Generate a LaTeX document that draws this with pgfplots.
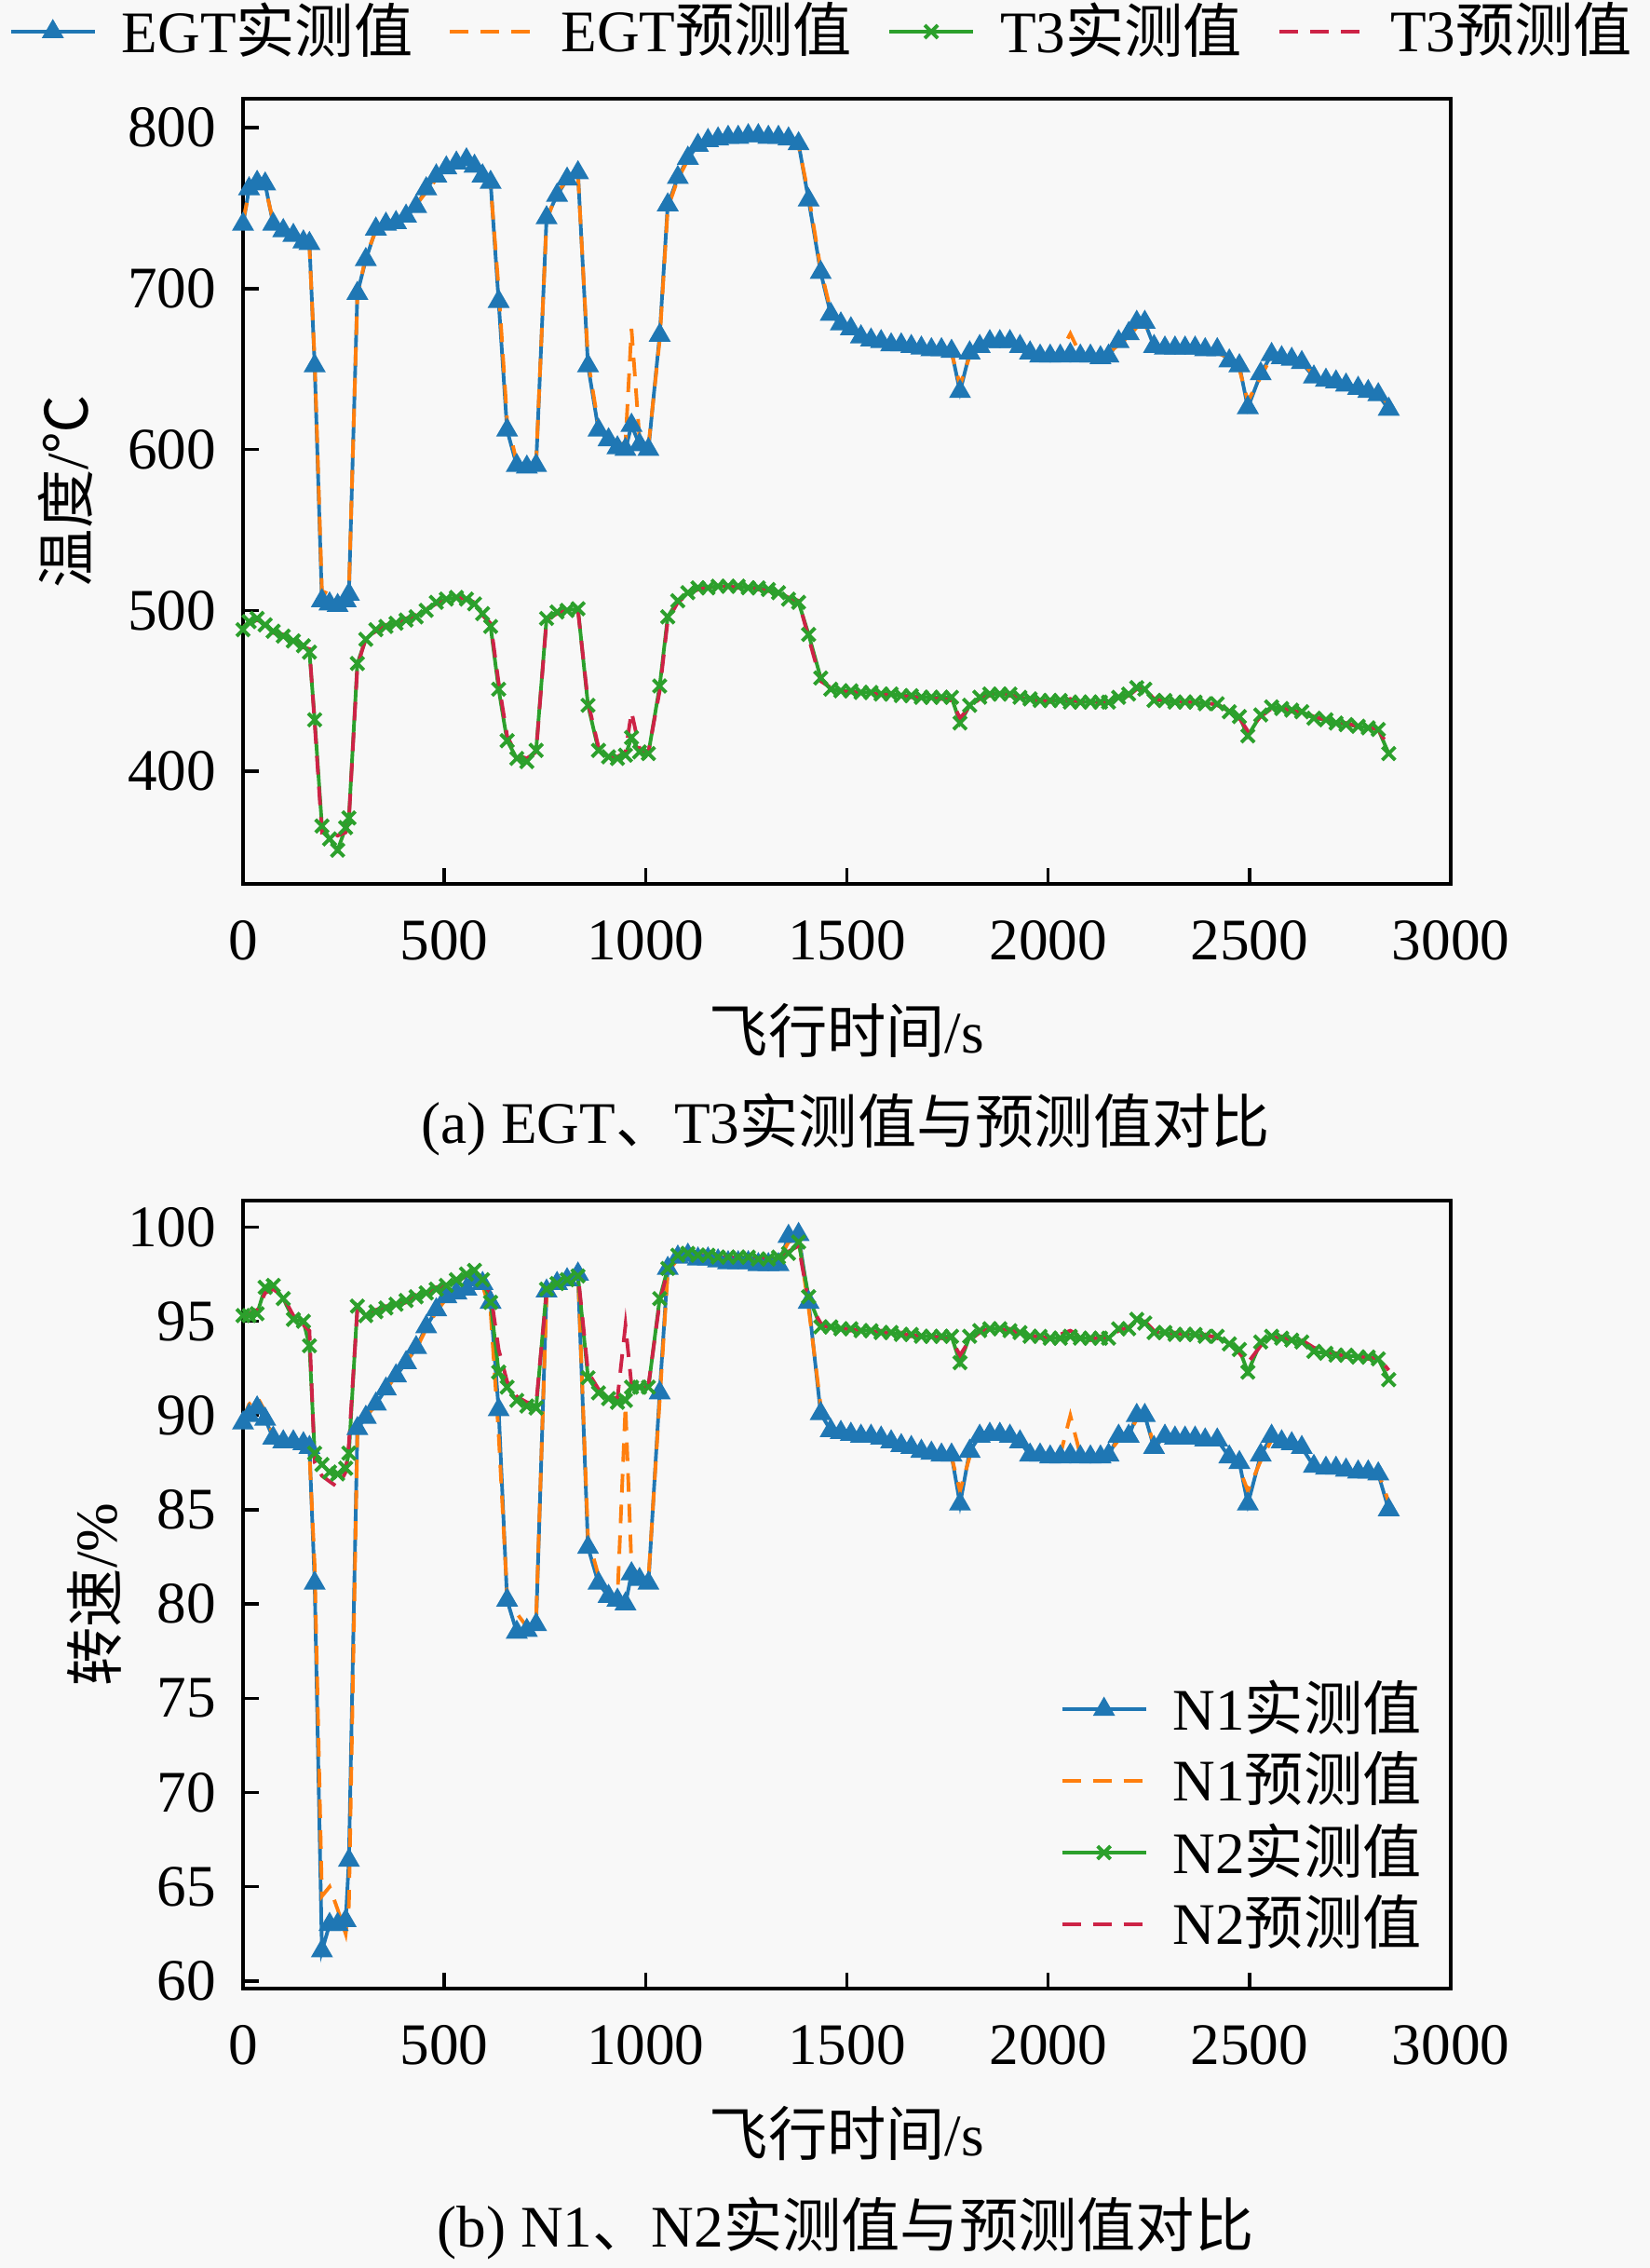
\documentclass[border=0pt]{standalone}
\usepackage{fontspec}
\setmainfont{Liberation Serif}
\newfontfamily\cjk{Noto Sans CJK SC}
\usepackage{pgfplots}
\pgfplotsset{compat=1.18}
\usepackage{pgfplotstable}
\definecolor{cblue}{RGB}{31,119,180}
\definecolor{corange}{RGB}{255,127,14}
\definecolor{cgreen}{RGB}{44,160,44}
\definecolor{cred}{RGB}{205,35,70}
\definecolor{bgcol}{RGB}{248,248,248}

\pgfplotstableread{
t egt egtp t3 t3p
0 740 742 488 490
15 762 760 493 492
35 766 765 495 494
55 765 763 491 492
75 740 742 487 486
100 736 737 484 485
125 733 732 481 482
150 729 730 478 477
165 728 726 474 476
178 652 655 432 430
196 506 512 366 362
215 504 510 358 363
235 503 508 351 360
255 506 505 365 362
263 510 512 371 370
284 697 695 467 465
305 718 720 482 483
330 737 736 488 487
355 740 741 490 491
380 741 743 492 491
405 745 744 494 495
430 751 752 496 497
455 762 760 500 501
480 770 768 505 504
505 775 776 507 506
530 778 777 508 508
555 780 779 507 507
575 776 775 504 505
595 770 771 498 497
615 766 764 490 492
635 692 700 451 455
656 612 618 419 422
680 590 592 408 410
705 589 590 406 408
728 590 592 413 412
754 744 742 495 494
780 758 760 499 498
805 768 767 500 500
832 772 771 501 500
857 652 655 441 443
883 612 615 413 415
908 606 608 409 410
930 601 603 408 409
950 600 604 410 412
965 615 675 421 437
985 603 606 412 414
1007 600 602 411 412
1035 671 668 453 450
1055 752 750 496 494
1080 769 768 506 505
1105 781 780 511 510
1130 789 788 514 513
1155 792 791 514 514
1180 793 792 515 514
1205 794 793 515 515
1230 794 794 515 514
1255 795 794 514 514
1280 795 794 514 513
1305 794 793 513 512
1330 794 793 511 511
1355 793 792 507 508
1380 790 789 505 506
1405 755 758 485 483
1435 710 712 458 456
1460 684 686 451 452
1485 678 679 450 450
1510 675 676 450 449
1535 670 671 449 449
1560 668 668 449 448
1585 667 666 448 448
1610 665 666 448 447
1635 665 664 447 447
1660 664 664 447 446
1685 663 662 446 446
1710 662 662 446 445
1735 662 661 446 445
1760 661 660 446 444
1781 636 640 430 433
1805 660 658 441 440
1830 664 663 446 445
1855 667 666 448 447
1880 667 667 448 448
1905 667 666 448 447
1930 664 663 446 446
1955 660 661 445 444
1980 658 659 444 444
2005 658 658 444 443
2030 658 660 444 443
2055 659 672 443 445
2080 658 659 443 443
2105 658 657 443 442
2130 657 658 443 442
2150 658 660 443 443
2175 667 665 446 445
2200 672 670 448 447
2220 679 676 452 451
2240 679 678 451 451
2263 664 665 444 445
2290 663 664 444 444
2315 663 662 443 444
2340 663 663 443 443
2365 663 664 443 443
2390 662 662 442 443
2420 662 660 442 441
2450 655 657 437 438
2475 652 650 434 433
2496 626 630 422 425
2528 647 645 435 434
2555 659 658 440 439
2580 657 657 439 440
2605 656 655 438 437
2630 654 655 437 437
2660 645 646 433 434
2690 643 644 432 432
2715 642 641 430 431
2740 640 641 429 430
2770 638 638 428 428
2795 636 637 427 427
2820 634 635 426 426
2846 625 628 411 415
}\tempdata

\pgfplotstableread{
t n1 n1p n2 n2p
0 89.6 89.8 95.3 95.1
15 90.0 90.6 95.3 95.4
35 90.4 91.0 95.4 95.6
55 89.8 90.2 96.8 96.5
75 88.8 88.9 96.9 96.7
100 88.6 88.7 96.2 96.3
125 88.6 88.5 95.1 95.3
150 88.5 88.6 95.0 94.8
165 88.3 88.0 93.7 94.5
178 81.1 82.0 88.0 87.5
196 61.6 64.5 87.4 86.8
215 63.0 65.0 87.0 86.5
235 63.0 63.8 86.9 86.2
255 63.2 62.5 87.2 87.0
263 66.4 64.0 88.0 88.5
284 89.3 89.0 95.8 95.6
305 89.9 90.0 95.3 95.5
330 90.6 90.5 95.5 95.6
355 91.4 91.3 95.7 95.8
380 92.1 92.2 95.9 95.8
405 92.8 92.9 96.1 96.0
430 93.6 93.5 96.3 96.4
455 94.7 94.6 96.5 96.4
480 95.6 95.5 96.7 96.8
505 96.3 96.2 96.9 96.9
530 96.5 96.6 97.2 97.1
555 96.7 96.8 97.5 97.4
575 97.2 97.1 97.7 97.6
595 97.0 96.9 97.2 97.0
615 96.0 95.5 96.0 96.5
635 90.3 89.0 92.3 93.5
656 80.2 80.5 91.5 91.8
680 78.5 79.5 90.8 91.0
705 78.6 78.8 90.5 90.7
728 78.9 79.2 90.4 90.6
754 96.6 96.3 96.7 96.5
780 97.0 96.8 97.0 97.1
805 97.2 97.3 97.2 97.3
832 97.5 97.6 97.4 97.5
857 83.0 83.5 92.0 92.3
883 81.1 81.5 91.2 91.4
908 80.4 80.6 90.9 91.0
930 80.2 80.3 90.7 90.9
950 80.0 90.5 90.8 94.8
965 81.6 82.0 91.5 91.6
985 81.3 81.5 91.5 91.4
1007 81.1 81.3 91.5 91.6
1035 91.2 90.8 96.2 96.0
1055 97.8 97.6 97.8 97.7
1080 98.4 98.3 98.5 98.4
1105 98.5 98.4 98.6 98.5
1130 98.3 98.4 98.5 98.6
1155 98.3 98.2 98.5 98.4
1180 98.2 98.3 98.4 98.5
1205 98.1 98.2 98.4 98.4
1230 98.1 98.0 98.4 98.3
1255 98.1 98.2 98.4 98.4
1280 98.0 98.1 98.3 98.4
1305 98.0 98.1 98.3 98.3
1330 98.0 98.2 98.4 98.3
1355 99.5 99.2 98.6 98.7
1380 99.6 99.4 99.2 99.0
1405 96.0 95.7 96.3 96.0
1435 90.1 90.5 94.7 94.9
1460 89.2 89.4 94.7 94.6
1485 89.1 89.0 94.6 94.7
1510 89.0 89.1 94.6 94.5
1535 88.9 89.0 94.5 94.6
1560 88.9 88.8 94.5 94.4
1585 88.8 88.9 94.4 94.5
1610 88.6 88.7 94.4 94.3
1635 88.4 88.5 94.3 94.4
1660 88.3 88.2 94.3 94.2
1685 88.1 88.2 94.2 94.3
1710 88.0 88.1 94.2 94.2
1735 87.9 88.0 94.2 94.1
1760 87.9 87.8 94.2 94.0
1781 85.3 86.0 92.8 93.2
1805 88.1 87.8 94.2 94.0
1830 88.9 88.8 94.5 94.4
1855 89.0 89.1 94.6 94.6
1880 89.0 88.9 94.6 94.5
1905 88.9 89.0 94.5 94.6
1930 88.6 88.5 94.4 94.3
1955 87.9 88.0 94.2 94.3
1980 87.9 87.8 94.2 94.1
2005 87.8 87.9 94.1 94.2
2030 87.8 87.9 94.1 94.3
2055 87.9 90.0 94.2 94.5
2080 87.8 87.9 94.1 94.2
2105 87.8 87.7 94.1 94.0
2130 87.8 87.9 94.1 94.2
2150 87.9 88.0 94.1 94.1
2175 88.9 88.7 94.6 94.5
2200 88.9 89.0 94.6 94.7
2220 90.0 89.8 95.1 95.0
2240 90.0 89.9 94.9 95.0
2263 88.3 88.5 94.4 94.5
2290 88.9 88.8 94.4 94.3
2315 88.8 88.9 94.3 94.4
2340 88.8 88.7 94.3 94.3
2365 88.8 88.8 94.3 94.2
2390 88.7 88.8 94.2 94.3
2420 88.7 88.6 94.2 94.1
2450 87.8 88.0 93.8 93.9
2475 87.5 87.2 93.5 93.3
2496 85.3 86.0 92.3 92.8
2528 87.9 87.6 93.9 93.7
2555 88.9 88.7 94.2 94.1
2580 88.6 88.7 94.1 94.2
2605 88.5 88.4 94.0 94.0
2630 88.3 88.4 93.9 94.0
2660 87.3 87.5 93.4 93.6
2690 87.2 87.1 93.3 93.4
2715 87.2 87.3 93.2 93.3
2740 87.1 87.0 93.2 93.1
2770 87.0 87.1 93.1 93.2
2795 87.0 86.9 93.1 93.0
2820 86.9 87.0 93.0 93.1
2846 85.0 85.4 91.9 92.4
}\speeddata

\pgfplotsset{
  myaxis/.style={
    scale only axis, width=129.7mm,
    xmin=0, xmax=3000, xtick={0,500,...,3000},
    axis line style={line width=1.3pt},
    tick align=inside, xtick pos=bottom, ytick pos=left,
    major tick length=1.7mm,
    tick style={line width=1pt, black},
    /pgf/number format/assume math mode=true,
    /pgf/number format/1000 sep={},
    xticklabel style={yshift=-1.75mm},
    yticklabel style={xshift=-0.7mm},
    legend cell align=left,
    legend image code/.code={\draw[mark repeat=2,mark phase=2,##1] plot coordinates {(0cm,0cm) (0.45cm,0cm) (0.9cm,0cm)};},
  },
  act/.style={line width=1.1pt, mark size=2.8pt, mark options={solid}},
  pre/.style={line width=1.1pt, dash pattern=on 2mm off 1.3mm},
}

\begin{document}
\fontsize{18}{22}\selectfont
\begin{tikzpicture}
\fill[bgcol] (0,0) rectangle (177.2mm,243.5mm);
\useasboundingbox (0,0) rectangle (177.2mm,243.5mm);

\begin{axis}[myaxis,
  at={(26.1mm,148.6mm)}, anchor=south west,
  height=84.3mm,
  ymin=330, ymax=818, ytick={400,500,...,800},
  xlabel={{\cjk 飞行时间}/s},
  xlabel style={at={(axis description cs:0.5,-0.187)}, anchor=center},
  ylabel={{\cjk 温度}/{\cjk ℃}},
  ylabel style={at={(axis description cs:-0.147,0.5)}, anchor=center},
  legend columns=4,
  legend style={at={(axis description cs:0.5,1)}, anchor=center, yshift=7.2mm, xshift=-2.45mm,
    draw=none, fill=none,
    /tikz/every odd column/.append style={column sep=2mm},
    /tikz/every even column/.append style={column sep=3.1mm}},
]
\addplot[cblue, act, mark=triangle*, mark options={fill=cblue}] table[x=t,y=egt]{\tempdata};
\addlegendentry{EGT{\cjk 实测值}}
\addplot[corange, pre] table[x=t,y=egtp]{\tempdata};
\addlegendentry{EGT{\cjk 预测值}}
\addplot[cgreen, act, mark=x] table[x=t,y=t3]{\tempdata};
\addlegendentry{T3{\cjk 实测值}}
\addplot[cred, pre] table[x=t,y=t3p]{\tempdata};
\addlegendentry{T3{\cjk 预测值}}
\end{axis}

\begin{axis}[myaxis,
  at={(26.1mm,30.0mm)}, anchor=south west,
  height=84.6mm,
  ymin=59.6, ymax=101.4, ytick={60,65,...,100},
  xlabel={{\cjk 飞行时间}/s},
  xlabel style={at={(axis description cs:0.5,-0.184)}, anchor=center},
  ylabel={{\cjk 转速}/\%},
  ylabel style={at={(axis description cs:-0.123,0.5)}, anchor=center},
  legend style={at={(axis description cs:1,0)}, anchor=south east, xshift=-1.3mm, yshift=2.3mm,
    draw=none, fill=none,
    /tikz/every odd column/.append style={column sep=2mm}},
]
\addplot[cblue, act, mark=triangle*, mark options={fill=cblue}] table[x=t,y=n1]{\speeddata};
\addlegendentry{N1{\cjk 实测值}}
\addplot[corange, pre] table[x=t,y=n1p]{\speeddata};
\addlegendentry{N1{\cjk 预测值}}
\addplot[cgreen, act, mark=x] table[x=t,y=n2]{\speeddata};
\addlegendentry{N2{\cjk 实测值}}
\addplot[cred, pre] table[x=t,y=n2p]{\speeddata};
\addlegendentry{N2{\cjk 预测值}}
\end{axis}

\node at (90.8mm,122.8mm) {(a) EGT{\cjk 、}T3{\cjk 实测值与预测值对比}};
\node at (90.8mm,4.3mm) {(b) N1{\cjk 、}N2{\cjk 实测值与预测值对比}};
\end{tikzpicture}
\end{document}
